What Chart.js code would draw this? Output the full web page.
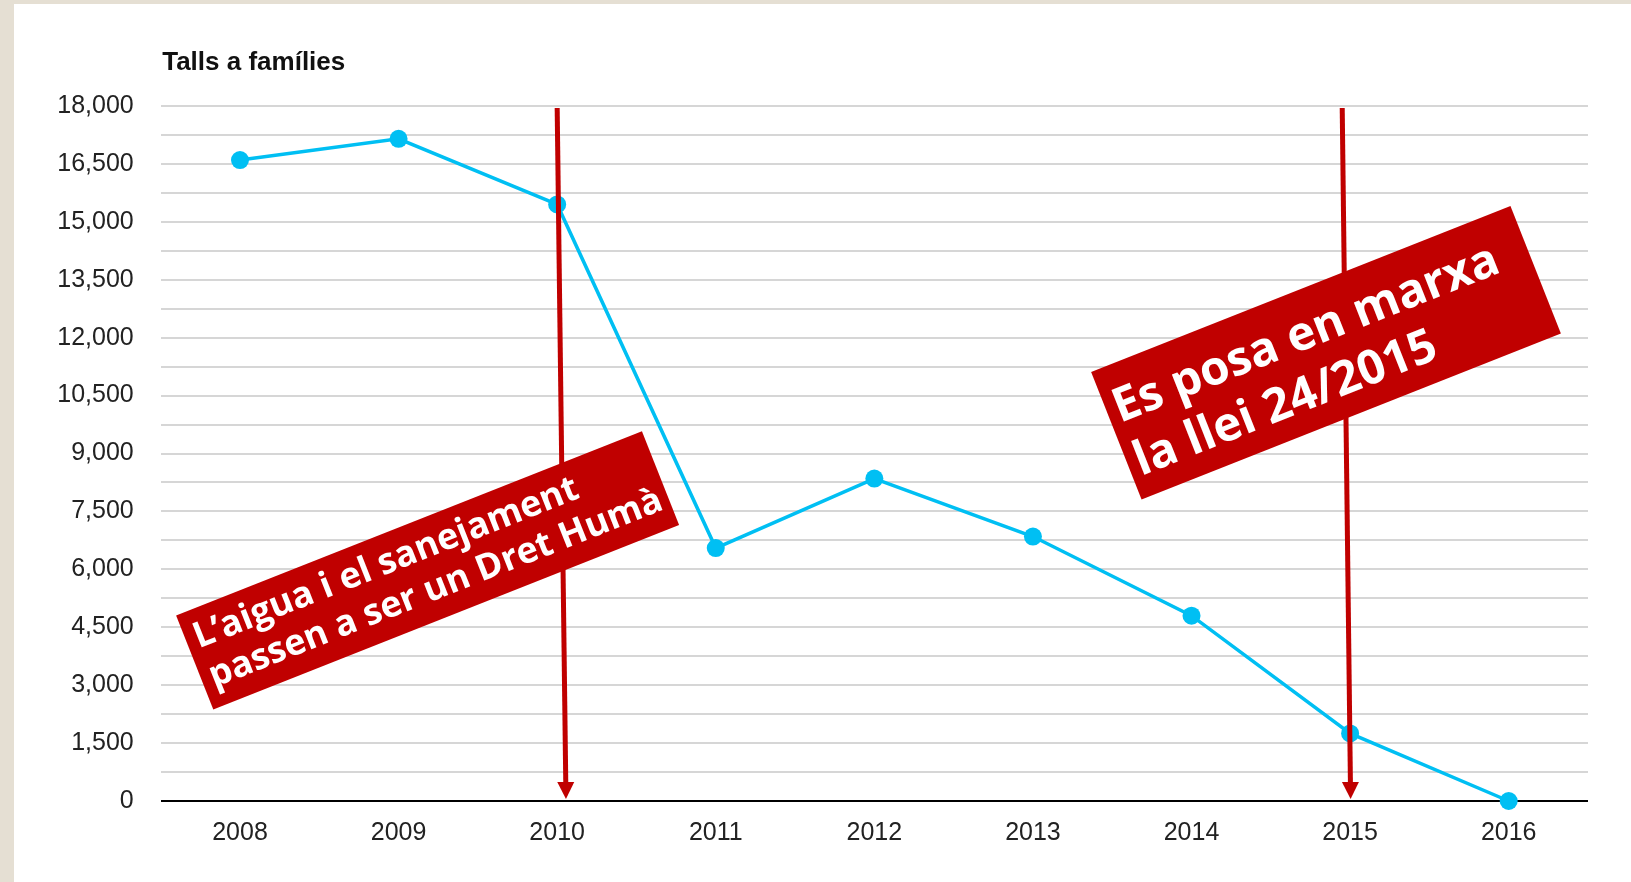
<!DOCTYPE html>
<html>
<head>
<meta charset="utf-8">
<script src="https://cdn.jsdelivr.net/npm/chart.js@4"></script>
<style>
  html, body { margin: 0; padding: 0; background: #e5dfd3; overflow: hidden; }
  #wrap { position: absolute; left: 14px; top: 4px; width: 1617px; height: 878px; background: #fff; }
</style>
</head>
<body>
<div id="wrap"><canvas id="tallsChart"></canvas></div>
<script>
const years = ["2008", "2009", "2010", "2011", "2012", "2013", "2014", "2015", "2016"];
const talls = [16600, 17150, 15450, 6550, 8350, 6850, 4800, 1750, 0];
const yTicks = [0, 1500, 3000, 4500, 6000, 7500, 9000, 10500, 12000, 13500, 15000, 16500, 18000];
const chartTitle = "Talls a famílies";
const arrowYears = ["2010", "2015"];
const noteLines = [
  ["L’aigua i el sanejament", "passen a ser un Dret Humà"],
  ["Es posa en marxa", "la llei 24/2015"],
];

const lineColor = "#00bff3";
const noteRed = "#c00000";
const labelFont = "'Liberation Sans', Arial, sans-serif";

// where the red labels sit (index on x, value on y), plus their look
const noteStyle = [
  { at: 1.183, val: 5975, w: 501, h: 101, angle: -21.6, size: 36, lead: 42, pad: 9, base: 39 },
  { at: 6.848, val: 11610, w: 451, h: 137, angle: -21.6, size: 47.5, lead: 57, pad: 8, base: 58 },
];
const arrowStyle = [
  { dxTop: 0, dxBottom: 8.8 },
  { dxTop: -7.9, dxBottom: 0.5 },
];

const overlay = {
  id: "overlay",
  afterDraw(chart) {
    const { ctx, chartArea, scales } = chart;
    const x = scales.x, y = scales.y;
    ctx.save();

    // title
    ctx.fillStyle = "#111";
    ctx.font = "bold 26px " + labelFont;
    ctx.textAlign = "left";
    ctx.textBaseline = "alphabetic";
    ctx.fillText(chartTitle, chartArea.left + 1.5, 66);

    // arrows
    arrowYears.forEach((yr, i) => {
      const cx = x.getPixelForValue(years.indexOf(yr));
      const s = arrowStyle[i];
      const x0 = cx + s.dxTop, y0 = chartArea.top + 2;
      const x1 = cx + s.dxBottom, y1 = y.getPixelForValue(0) - 2;
      const len = Math.hypot(x1 - x0, y1 - y0);
      const ux = (x1 - x0) / len, uy = (y1 - y0) / len;
      const head = 17, half = 8.5;
      const bx = x1 - ux * head, by = y1 - uy * head;
      ctx.strokeStyle = noteRed;
      ctx.lineWidth = 5;
      ctx.beginPath();
      ctx.moveTo(x0, y0);
      ctx.lineTo(bx + ux, by + uy);
      ctx.stroke();
      ctx.fillStyle = noteRed;
      ctx.beginPath();
      ctx.moveTo(x1, y1);
      ctx.lineTo(bx - uy * half, by + ux * half);
      ctx.lineTo(bx + uy * half, by - ux * half);
      ctx.closePath();
      ctx.fill();
    });

    // rotated red labels
    noteLines.forEach((lines, i) => {
      const s = noteStyle[i];
      ctx.save();
      ctx.translate(x.getPixelForValue(s.at), y.getPixelForValue(s.val));
      ctx.rotate(s.angle * Math.PI / 180);
      ctx.fillStyle = noteRed;
      ctx.fillRect(-s.w / 2, -s.h / 2, s.w, s.h);
      ctx.fillStyle = "#fff";
      ctx.font = "bold " + s.size + "px 'Open Sans', sans-serif";
      ctx.textAlign = "left";
      ctx.textBaseline = "alphabetic";
      lines.forEach((t, j) => {
        ctx.fillText(t, -s.w / 2 + s.pad, -s.h / 2 + s.base + j * s.lead);
      });
      ctx.restore();
    });

    ctx.restore();
  },
};

new Chart(document.getElementById("tallsChart"), {
  type: "line",
  data: {
    labels: years,
    datasets: [
      {
        data: talls,
        borderColor: lineColor,
        backgroundColor: lineColor,
        borderWidth: 3.5,
        pointRadius: 9,
        pointHoverRadius: 9,
        pointBorderWidth: 0,
        tension: 0,
        clip: false,
      },
    ],
  },
  options: {
    responsive: true,
    maintainAspectRatio: false,
    animation: false,
    layout: { padding: { top: 102, right: 43, bottom: 0, left: 0 } },
    plugins: {
      legend: { display: false },
      tooltip: { enabled: false },
    },
    scales: {
      x: {
        offset: true,
        grid: { display: false },
        border: { display: false },
        ticks: {
          color: "#222",
          font: { family: labelFont, size: 25 },
          padding: 9,
          maxRotation: 0,
        },
        afterFit(scale) {
          scale.height = 81;
        },
      },
      y: {
        min: 0,
        max: 18000,
        border: { display: false },
        grid: {
          drawTicks: false,
          lineWidth: 2,
          color: (c) => (c.tick && c.tick.value === 0 ? "#000" : "#d6d6d6"),
        },
        ticks: {
          stepSize: 750,
          autoSkip: false,
          padding: 27,
          color: "#222",
          font: { family: labelFont, size: 25 },
          callback: (v) => (yTicks.includes(v) ? v.toLocaleString("en-US") : ""),
        },
        afterFit(scale) {
          scale.width = 146.7;
        },
      },
    },
  },
  plugins: [overlay],
});
</script>
</body>
</html>
